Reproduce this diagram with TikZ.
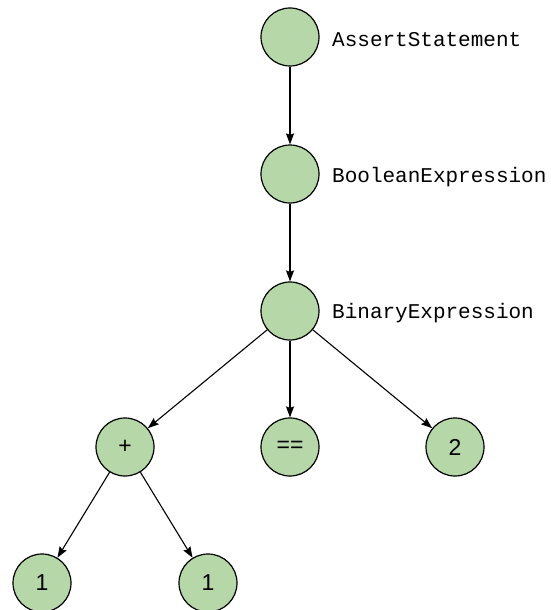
\documentclass[tikz,border=0pt]{standalone}
\usepackage{fontspec}
\setmainfont{Liberation Sans}
\newfontfamily\codefont{Liberation Mono}
\usetikzlibrary{arrows.meta}
\definecolor{leafgreen}{RGB}{182,215,168}
\tikzset{
  astnode/.style={circle, draw=black, line width=1.2pt, fill=leafgreen, minimum size=58pt, inner sep=0pt, font=\fontsize{23}{27}\selectfont},
  astname/.style={anchor=west, inner sep=0pt, font=\codefont\fontsize{21}{25}\selectfont},
  astedge/.style={-{Stealth[length=11pt,width=8pt,inset=1.5pt]}, line width=1.1pt}
}
\begin{document}
\begin{tikzpicture}[x=1pt, y=-1pt]
\useasboundingbox (0,0) rectangle (551,610);
% tree nodes
\node[astnode] (assert) at (290,37) {};
\node[astnode] (bool) at (290,174) {};
\node[astnode] (binary) at (290,311) {};
\node[astnode] (plus) at (125,447) {+};
\node[astnode] (eq) at (290,447) {==};
\node[astnode] (two) at (455,447) {2};
\node[astnode] (oneL) at (42,583) {1};
\node[astnode] (oneR) at (208,583) {1};
% type names
\node[astname] (assertname) at (332,40) {AssertStatement};
\node[astname] (boolname) at (332,177) {BooleanExpression};
\node[astname] (binaryname) at (332,313) {BinaryExpression};
% edges
\draw[astedge] (assert) -- (bool);
\draw[astedge] (bool) -- (binary);
\draw[astedge] (binary) -- (plus);
\draw[astedge] (binary) -- (eq);
\draw[astedge] (binary) -- (two);
\draw[astedge] (plus) -- (oneL);
\draw[astedge] (plus) -- (oneR);
\end{tikzpicture}
\end{document}
